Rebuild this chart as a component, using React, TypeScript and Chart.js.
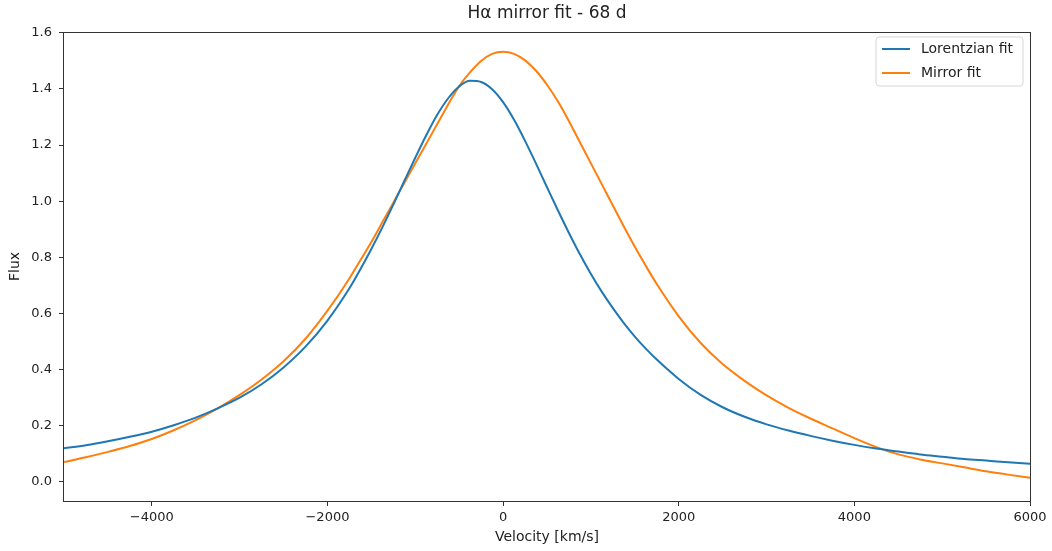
import React, { useEffect, useRef } from 'react';
import { Chart, registerables } from 'chart.js';

Chart.register(...registerables);

const velocity = [
  -5000, -4750, -4500, -4250, -4000, -3750, -3500, -3250, -3000, -2750, -2500, -2250, -2000,
  -1750, -1625, -1500, -1375, -1250, -1125, -1000, -875, -750, -625, -500, -375, -250, -125,
  0, 125, 250, 375, 500, 625, 750, 875, 1000, 1125, 1250, 1375, 1500, 1625, 1750,
  2000, 2250, 2500, 2750, 3000, 3250, 3500, 3750, 4000, 4250, 4500, 4750, 5000, 5250, 5500,
  5750, 6000,
];

const lorentzianFit = [
  0.12, 0.131, 0.145, 0.161, 0.179, 0.202, 0.229, 0.262, 0.3, 0.348, 0.408, 0.482, 0.575,
  0.69, 0.758, 0.83, 0.907, 0.988, 1.072, 1.155, 1.235, 1.308, 1.367, 1.409, 1.429, 1.425, 1.399,
  1.353, 1.29, 1.215, 1.134, 1.05, 0.967, 0.887, 0.811, 0.741, 0.677, 0.619, 0.566, 0.518, 0.475, 0.436,
  0.367, 0.31, 0.266, 0.232, 0.205, 0.183, 0.164, 0.147, 0.132, 0.119, 0.108, 0.098, 0.09, 0.082, 0.076,
  0.07, 0.065,
];

const mirrorFit = [
  0.071, 0.088, 0.107, 0.128, 0.153, 0.184, 0.22, 0.262, 0.31, 0.365, 0.43, 0.51, 0.61,
  0.725, 0.79, 0.855, 0.925, 0.995, 1.065, 1.135, 1.205, 1.275, 1.345, 1.41, 1.46, 1.5, 1.525,
  1.533, 1.525, 1.502, 1.465, 1.415, 1.355, 1.285, 1.21, 1.135, 1.06, 0.985, 0.91, 0.838, 0.77, 0.705,
  0.59, 0.495, 0.42, 0.36, 0.308, 0.264, 0.226, 0.191, 0.156, 0.124, 0.098, 0.08, 0.066, 0.052, 0.038,
  0.026, 0.015,
];

const xTickValues = [-4000, -2000, 0, 2000, 4000, 6000];
const yTickValues = [0, 0.2, 0.4, 0.6, 0.8, 1.0, 1.2, 1.4, 1.6];

const chartTitle = 'Hα mirror fit - 68 d';
const seriesNames = ['Lorentzian fit', 'Mirror fit'];
const seriesColors = ['#1f77b4', '#ff7f0e'];

const FONT = "'DejaVu Sans', sans-serif";

const frameTitleLegend = {
  id: 'frameTitleLegend',
  afterDatasetsDraw(chart: any) {
    const { ctx, chartArea } = chart;
    const { left, right, top, bottom } = chartArea;
    ctx.save();
    ctx.strokeStyle = '#333';
    ctx.lineWidth = 1;
    ctx.strokeRect(Math.round(left) - 0.5, Math.round(top) + 0.5, Math.round(right - left) + 1, Math.round(bottom - top));

    ctx.font = `17px ${FONT}`;
    ctx.fillStyle = '#222';
    ctx.textAlign = 'center';
    ctx.textBaseline = 'middle';
    ctx.fillText(chartTitle, (left + right) / 2, top - 18);

    const boxW = 147;
    const boxH = 49;
    const bx = right - 7 - boxW;
    const by = top + 5;
    const r = 3;
    ctx.beginPath();
    ctx.moveTo(bx + r, by);
    ctx.lineTo(bx + boxW - r, by);
    ctx.quadraticCurveTo(bx + boxW, by, bx + boxW, by + r);
    ctx.lineTo(bx + boxW, by + boxH - r);
    ctx.quadraticCurveTo(bx + boxW, by + boxH, bx + boxW - r, by + boxH);
    ctx.lineTo(bx + r, by + boxH);
    ctx.quadraticCurveTo(bx, by + boxH, bx, by + boxH - r);
    ctx.lineTo(bx, by + r);
    ctx.quadraticCurveTo(bx, by, bx + r, by);
    ctx.closePath();
    ctx.fillStyle = 'rgba(255,255,255,0.85)';
    ctx.fill();
    ctx.strokeStyle = '#d6d6d6';
    ctx.stroke();

    ctx.font = `14px ${FONT}`;
    ctx.textBaseline = 'middle';
    ctx.textAlign = 'left';
    seriesNames.forEach((name, i) => {
      const ly = by + 12 + i * 24;
      ctx.strokeStyle = seriesColors[i];
      ctx.lineWidth = 2;
      ctx.beginPath();
      ctx.moveTo(bx + 6, ly);
      ctx.lineTo(bx + 34, ly);
      ctx.stroke();
      ctx.fillStyle = '#222';
      ctx.fillText(name, bx + 45, ly);
    });
    ctx.restore();
  },
};

export default function App() {
  const canvasRef = useRef<HTMLCanvasElement | null>(null);

  useEffect(() => {
    document.body.style.margin = '0';
    const canvas = canvasRef.current;
    if (!canvas) return;
    const chart = new Chart(canvas, {
      type: 'line',
      data: {
        datasets: [lorentzianFit, mirrorFit].map((vals, i) => ({
          label: seriesNames[i],
          data: velocity.map((v, j) => ({ x: v, y: vals[j] })),
          borderColor: seriesColors[i],
          backgroundColor: seriesColors[i],
          borderWidth: 2,
          pointRadius: 0,
          fill: false,
          cubicInterpolationMode: 'monotone' as const,
        })),
      },
      options: {
        animation: false,
        responsive: false,
        maintainAspectRatio: false,
        layout: { padding: { left: 0, right: 22, top: 32, bottom: 0 } },
        plugins: {
          legend: { display: false },
          tooltip: { enabled: false },
          title: { display: false },
        },
        scales: {
          x: {
            type: 'linear',
            min: -5000,
            max: 6000,
            afterBuildTicks: (scale: any) => {
              scale.ticks = xTickValues.map((v) => ({ value: v }));
            },
            afterFit: (scale: any) => {
              scale.height = 50;
            },
            ticks: {
              color: '#222',
              font: { family: FONT, size: 13 },
              padding: 4,
              maxRotation: 0,
              autoSkip: false,
              callback: (v: any) => (Number(v) < 0 ? '\u2212' + Math.abs(Number(v)) : String(v)),
            },
            grid: { drawOnChartArea: false, drawTicks: true, tickLength: 5, color: '#333' },
            border: { display: false },
            title: {
              display: true,
              text: 'Velocity [km/s]',
              color: '#222',
              font: { family: FONT, size: 14 },
              padding: { top: 0, bottom: 5.6 },
            },
          },
          y: {
            type: 'linear',
            min: -0.068,
            max: 1.603,
            afterBuildTicks: (scale: any) => {
              scale.ticks = yTickValues.map((v) => ({ value: v }));
            },
            afterFit: (scale: any) => {
              scale.width = 64;
            },
            ticks: {
              color: '#222',
              font: { family: FONT, size: 13 },
              padding: 7,
              autoSkip: false,
              callback: (v: any) => Number(v).toFixed(1),
            },
            grid: { drawOnChartArea: false, drawTicks: true, tickLength: 5, color: '#333' },
            border: { display: false },
            title: {
              display: true,
              text: 'Flux',
              color: '#222',
              font: { family: FONT, size: 14 },
              padding: { top: 6.6, bottom: 0 },
            },
          },
        },
      },
      plugins: [frameTitleLegend],
    });
    return () => chart.destroy();
  }, []);

  return (
    <div style={{ width: 1052, height: 551, position: 'relative' }}>
      <canvas ref={canvasRef} width={1052} height={551} style={{ width: 1052, height: 551, display: 'block' }} />
    </div>
  );
}
